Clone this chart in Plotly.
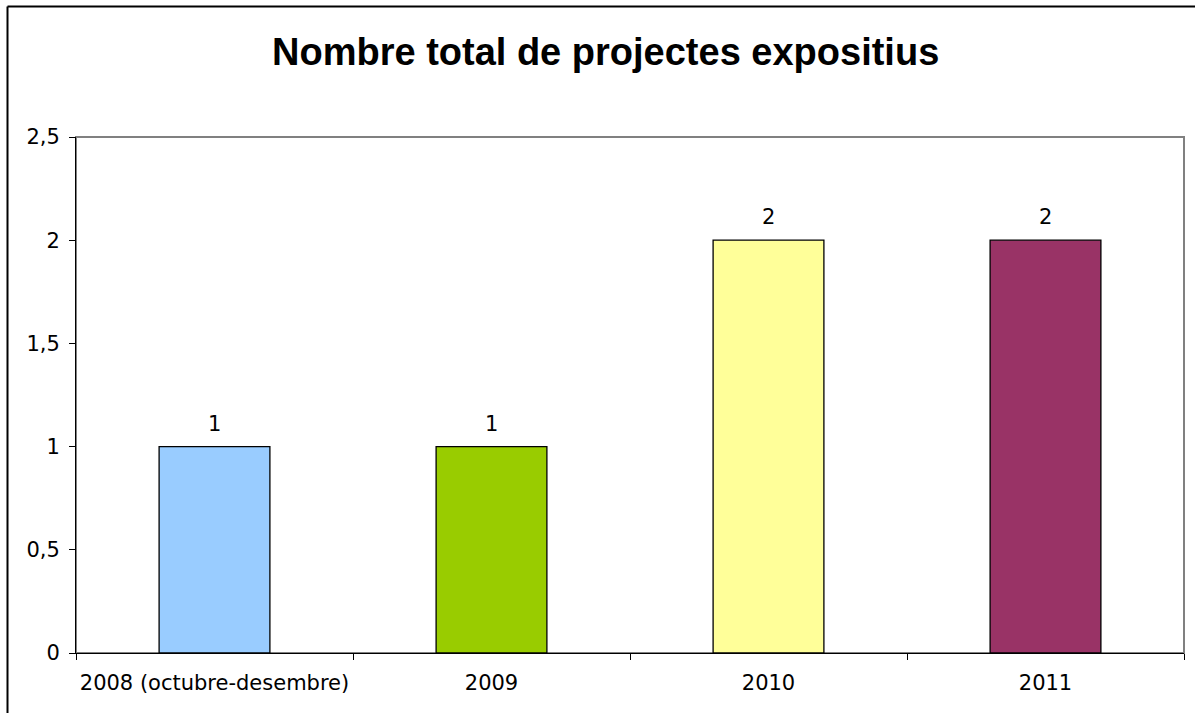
import plotly.graph_objects as go

categories = ["2008 (octubre-desembre)", "2009", "2010", "2011"]
values = [1, 1, 2, 2]
colors = ["#99CCFF", "#99CC00", "#FFFF99", "#993366"]
title_text = "Nombre total de projectes expositius"

W, H = 1195, 713
L, R, T, B = 76, 11, 137, 60
pw = W - L - R
ph = H - T - B

fig = go.Figure()
fig.add_trace(go.Bar(
    x=categories, y=values, width=0.4,
    marker=dict(color=colors, line=dict(color="black", width=1.3)),
    hoverinfo="skip",
))

for i, v in enumerate(values):
    fig.add_annotation(x=i, y=v, text=str(v), showarrow=False, yanchor="bottom",
                       yshift=9, font=dict(family="DejaVu Sans", size=21, color="black"))

# plot-area frame (gray), axes drawn black over it
fig.add_shape(type="rect", xref="paper", yref="paper", x0=0, x1=1, y0=0, y1=1,
              line=dict(color="#808080", width=2), layer="below")
# outer chart border (left and top edges only are visible)
bx = (7.5 - L) / pw
by = (H - B - 6.5) / ph
fig.add_shape(type="line", xref="paper", yref="paper", x0=bx, x1=bx, y0=-0.3, y1=by,
              line=dict(color="black", width=2), layer="below")
fig.add_shape(type="line", xref="paper", yref="paper", x0=bx, x1=1.3, y0=by, y1=by,
              line=dict(color="black", width=2), layer="below")

fig.add_annotation(text="<b>" + title_text + "</b>", xref="paper", yref="paper",
                   x=(605 - L) / pw, y=(H - B - 52) / ph, showarrow=False,
                   xanchor="center", yanchor="middle",
                   font=dict(family="Liberation Sans, Arial", size=38, color="black"))

fig.update_layout(
    width=W, height=H,
    margin=dict(l=L, r=R, t=T, b=B, pad=0, autoexpand=False),
    paper_bgcolor="white", plot_bgcolor="white",
    separators=", ",
    showlegend=False,
    font=dict(family="DejaVu Sans", size=21, color="black"),
    xaxis=dict(type="category", range=[-0.5, 3.5], autorange=False,
               tickson="boundaries", ticks="outside", ticklen=6,
               tickcolor="black", showline=True, linecolor="black", linewidth=1,
               showgrid=False, tickfont=dict(size=21), ticklabelstandoff=11,
               tickangle=0),
    yaxis=dict(range=[0, 2.5], autorange=False, dtick=0.5, ticks="outside", ticklen=6,
               tickcolor="black", showline=True, linecolor="black", linewidth=1,
               showgrid=False, zeroline=False, tickfont=dict(size=21),
               ticklabelstandoff=5),
)

fig.write_html("out.html", config={"displayModeBar": False},
               post_script="document.body.style.margin='0';")
